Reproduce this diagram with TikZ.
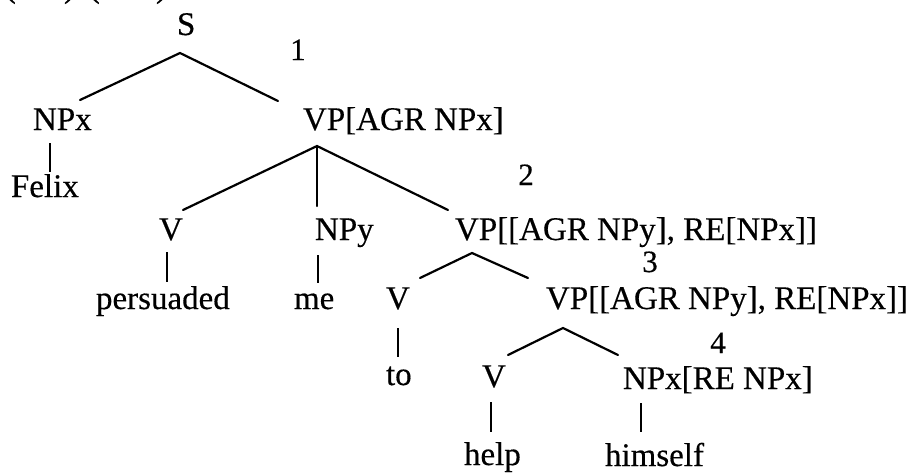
\documentclass[tikz,border=0pt]{standalone}
\usepackage{fontspec}
\setmainfont{Liberation Serif}
\newfontfamily\inkfont{Liberation Serif}[FakeBold=0.4]
\begin{document}
\begin{tikzpicture}[x=1pt,y=-1pt,
  lbl/.style={anchor=base west, inner sep=0pt, outer sep=0pt,
              font=\inkfont\fontsize{33}{40}\selectfont},
  num/.style={anchor=base, inner sep=0pt, outer sep=0pt,
              font=\inkfont\fontsize{31}{40}\selectfont},
  branch/.style={line width=2.2pt, line cap=round},
  stem/.style={line width=1.4pt}]
\useasboundingbox (0,0) rectangle (908,475);

% tail of the example number line above the tree
\node[lbl] (exnum) at (5,-3) {(\hspace{48pt})\hspace{14pt}(\hspace{56pt})};

% category labels
\node[lbl] (S)       at (177,35)  {S};
\node[lbl] (NPx)     at (33,130)  {NPx};
\node[lbl] (VPa)     at (303,130) {VP[AGR NPx]};
\node[lbl] (Felix)   at (11,197)  {Felix};
\node[lbl] (Va)      at (159,240) {V};
\node[lbl] (NPy)     at (315,240) {NPy};
\node[lbl] (VPb)     at (455,240) {VP[[AGR NPy], RE[NPx]]};
\node[lbl] (persuaded) at (96,309) {persuaded};
\node[lbl] (me)      at (294,309) {me};
\node[lbl] (Vb)      at (386,309) {V};
\node[lbl] (VPc)     at (546,309) {VP[[AGR NPy], RE[NPx]]};
\node[lbl] (to)      at (386,385) {to};
\node[lbl] (Vc)      at (482,387) {V};
\node[lbl] (NPxc)    at (623,389) {NPx[RE NPx]};
\node[lbl] (help)    at (464,465) {help};
\node[lbl] (himself) at (605,466) {himself};

% step numbers
\node[num] (n1) at (298,60)  {1};
\node[num] (n2) at (526,185) {2};
\node[num] (n3) at (650,272) {3};
\node[num] (n4) at (718,353) {4};

% branches
\draw[branch] ([shift={(47,-30)}]NPx.base west) -- ([shift={(3,18)}]S.base west)
              -- ([shift={(-25,-29)}]VPa.base west);
\draw[branch] ([shift={(24,-30)}]Va.base west) -- ([shift={(14,16)}]VPa.base west)
              -- ([shift={(-7,-30)}]VPb.base west);
\draw[branch] ([shift={(14,16)}]VPa.base west) -- ([shift={(2,-34)}]NPy.base west);
\draw[branch] ([shift={(34,-31)}]Vb.base west) -- ([shift={(17,13)}]VPb.base west)
              -- ([shift={(-18,-31)}]VPc.base west);
\draw[branch] ([shift={(26,-32)}]Vc.base west) -- ([shift={(17,19)}]VPc.base west)
              -- ([shift={(-5,-34)}]NPxc.base west);

% lexical stems
\draw[stem] ([shift={(17,13)}]NPx.base west) -- ([shift={(39,-25)}]Felix.base west);
\draw[stem] ([shift={(8,12)}]Va.base west) -- ([shift={(71,-27)}]persuaded.base west);
\draw[stem] ([shift={(3,15)}]NPy.base west) -- ([shift={(24,-26)}]me.base west);
\draw[stem] ([shift={(12,19)}]Vb.base west) -- ([shift={(12,-28)}]to.base west);
\draw[stem] ([shift={(9,15)}]Vc.base west) -- ([shift={(27,-33)}]help.base west);
\draw[stem] ([shift={(18,14)}]NPxc.base west) -- ([shift={(36,-34)}]himself.base west);
\end{tikzpicture}
\end{document}
